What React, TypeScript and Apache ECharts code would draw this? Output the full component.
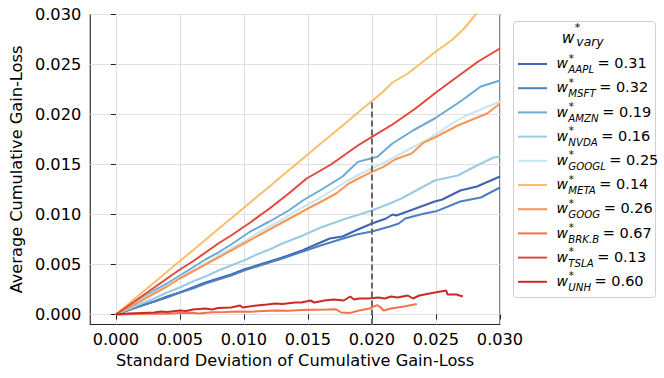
import React, { useEffect, useRef } from 'react';
import * as echarts from 'echarts';

const NAMES = ['AAPL', 'MSFT', 'AMZN', 'NVDA', 'GOOGL', 'META', 'GOOG', 'BRK.B', 'TSLA', 'UNH'];
const WEIGHTS = ['0.31', '0.32', '0.19', '0.16', '0.25', '0.14', '0.26', '0.67', '0.13', '0.60'];
const COLORS = ['#3f63ae', '#4c80bf', '#6aaad3', '#9acbe2', '#c8e6f1', '#fdbe6c', '#f99655', '#f4734a', '#e2483a', '#cc2a2a'];

const TICKS_X = [0, 0.005, 0.01, 0.015, 0.02, 0.025, 0.03];
const TICKS_Y = [0, 0.005, 0.01, 0.015, 0.02, 0.025, 0.03];

const AAPL = [[0,0],[0.001,0.00045],[0.002,0.0009],[0.003,0.0013],[0.004,0.0018],[0.005,0.0022],[0.006,0.0027],[0.007,0.0032],[0.008,0.0036],[0.009,0.004],[0.01,0.0045],[0.011,0.0049],[0.012,0.0053],[0.013,0.0057],[0.0146,0.00643],[0.0158,0.0071],[0.0167,0.0076],[0.0177,0.0078],[0.0189,0.0085],[0.02,0.0091],[0.0211,0.0096],[0.0216,0.01],[0.0219,0.0099],[0.0232,0.0105],[0.0249,0.0113],[0.0255,0.0115],[0.0269,0.0124],[0.0282,0.0128],[0.03,0.0138]];
const MSFT = [[0,0],[0.001,0.00044],[0.002,0.00088],[0.003,0.0013],[0.004,0.0017],[0.005,0.0022],[0.006,0.0026],[0.007,0.0031],[0.008,0.0035],[0.009,0.0039],[0.01,0.0044],[0.011,0.0048],[0.012,0.0052],[0.013,0.0056],[0.0146,0.0063],[0.016,0.0069],[0.0175,0.0075],[0.0188,0.008],[0.02,0.0083],[0.0214,0.0088],[0.0221,0.0091],[0.0226,0.0096],[0.0241,0.0101],[0.0251,0.01036],[0.0269,0.0113],[0.0285,0.0117],[0.03,0.0127]];
const AMZN = [[0,0],[0.001,0.0008],[0.002,0.0016],[0.003,0.0024],[0.004,0.0031],[0.005,0.0039],[0.006,0.0047],[0.007,0.0055],[0.008,0.0062],[0.009,0.007],[0.0105,0.0083],[0.012,0.0093],[0.0135,0.0104],[0.0146,0.0114],[0.0162,0.0126],[0.0177,0.0138],[0.0189,0.01526],[0.0199,0.0156],[0.0204,0.01576],[0.0216,0.0171],[0.0232,0.0184],[0.0249,0.0196],[0.0269,0.0213],[0.0285,0.0228],[0.03,0.0234]];
const NVDA = [[0,0],[0.001,0.00055],[0.002,0.0011],[0.003,0.0016],[0.004,0.0022],[0.005,0.0027],[0.006,0.0033],[0.007,0.0038],[0.008,0.0044],[0.009,0.0049],[0.01,0.0054],[0.011,0.006],[0.012,0.0065],[0.013,0.0071],[0.0146,0.0079],[0.016,0.0087],[0.018,0.0096],[0.02,0.0104],[0.0212,0.011],[0.0223,0.0116],[0.0236,0.0125],[0.0249,0.0134],[0.0267,0.0139],[0.0282,0.0149],[0.0295,0.0157],[0.03,0.0158]];
const GOOGL = [[0,0],[0.001,0.00075],[0.002,0.0015],[0.003,0.0022],[0.004,0.0029],[0.005,0.0037],[0.006,0.0044],[0.007,0.0051],[0.008,0.0059],[0.009,0.0066],[0.01,0.0073],[0.011,0.0081],[0.012,0.0088],[0.013,0.0095],[0.014,0.0103],[0.015,0.011],[0.016,0.0117],[0.017,0.0125],[0.018,0.0133],[0.019,0.014],[0.02,0.0146],[0.021,0.0152],[0.022,0.0159],[0.0233,0.0168],[0.0245,0.0176],[0.026,0.0189],[0.0272,0.0198],[0.0285,0.0205],[0.03,0.0213]];
const META = [[0,0],[0.001,0.00107],[0.002,0.00214],[0.003,0.0032],[0.004,0.00428],[0.005,0.00535],[0.006,0.0064],[0.007,0.00748],[0.008,0.00855],[0.009,0.0096],[0.01,0.01068],[0.011,0.01175],[0.012,0.0128],[0.013,0.0139],[0.014,0.01495],[0.015,0.01602],[0.016,0.0171],[0.017,0.01815],[0.018,0.0192],[0.019,0.0203],[0.02,0.02135],[0.0208,0.0222],[0.0216,0.0232],[0.0228,0.0241],[0.0241,0.0254],[0.025,0.0263],[0.0263,0.0275],[0.0272,0.0286],[0.0281,0.03],[0.029,0.0315]];
const GOOG = [[0,0],[0.001,0.0007],[0.002,0.0014],[0.003,0.0021],[0.004,0.0028],[0.005,0.0036],[0.006,0.0043],[0.007,0.005],[0.008,0.0057],[0.009,0.0064],[0.01,0.0071],[0.011,0.0078],[0.012,0.0085],[0.013,0.0092],[0.014,0.0099],[0.015,0.0106],[0.0162,0.0114],[0.0172,0.0121],[0.0182,0.0131],[0.0191,0.0137],[0.02,0.01426],[0.0209,0.01476],[0.0218,0.0155],[0.0231,0.0161],[0.024,0.01716],[0.0249,0.0177],[0.0267,0.0189],[0.029,0.0201],[0.03,0.0211]];
const BRKB = [[0,0],[0.001,0.00003],[0.002,0.00005],[0.003,0.0001],[0.004,0.00008],[0.005,0.00015],[0.006,0.00018],[0.0065,0.0001],[0.0075,0.00022],[0.0085,0.00025],[0.0095,0.0003],[0.0105,0.00028],[0.0115,0.00035],[0.0125,0.0004],[0.0135,0.00038],[0.0145,0.00045],[0.0155,0.00048],[0.0165,0.0005],[0.0172,0.00052],[0.0176,0.0002],[0.0183,0.00016],[0.019,0.0004],[0.0198,0.0006],[0.0204,0.00093],[0.0207,0.0007],[0.0209,0.0004],[0.0215,0.0006],[0.0225,0.0008],[0.0235,0.00105]];
const TSLA = [[0,0],[0.001,0.0009],[0.002,0.0018],[0.003,0.0027],[0.004,0.0036],[0.005,0.0045],[0.006,0.0053],[0.007,0.0062],[0.008,0.0071],[0.009,0.0079],[0.0105,0.0092],[0.012,0.0106],[0.0135,0.0121],[0.0149,0.0136],[0.0168,0.015],[0.0189,0.0169],[0.02,0.01776],[0.0216,0.019],[0.0234,0.0206],[0.0251,0.0223],[0.0268,0.0239],[0.0283,0.0253],[0.03,0.0266]];
const UNH = [[0,0],[0.001,0.0001],[0.002,0.00015],[0.003,0.0002],[0.0035,0.0003],[0.004,0.00025],[0.005,0.0004],[0.0055,0.00035],[0.006,0.0005],[0.007,0.0006],[0.0075,0.0005],[0.008,0.00065],[0.009,0.0007],[0.0097,0.0009],[0.0099,0.0007],[0.011,0.0009],[0.0118,0.001],[0.0125,0.0011],[0.013,0.00105],[0.014,0.0012],[0.0145,0.0012],[0.0152,0.0014],[0.0155,0.0012],[0.0163,0.0014],[0.017,0.0015],[0.0178,0.0014],[0.0183,0.0018],[0.0186,0.0015],[0.019,0.0016],[0.0197,0.0016],[0.0205,0.0017],[0.021,0.0016],[0.0215,0.0018],[0.022,0.0017],[0.0228,0.0019],[0.0232,0.0016],[0.0237,0.0019],[0.0245,0.0021],[0.0258,0.0024],[0.0259,0.002],[0.0266,0.002],[0.0271,0.0018]];

const SERIES_DATA = [AAPL, MSFT, AMZN, NVDA, GOOGL, META, GOOG, BRKB, TSLA, UNH];
const REF_LINE = [[0.02, -0.001], [0.02, 0.0214]];

const FONT = 'DejaVu Sans';
const AX_FONT = 16.2;
const MAIN_FS = 14;
const EQ_FS = 14.5;
const SUB_FS = 10.2;
const ROW_STEP = 24.2;

function measure(text: string, size: number, italic: boolean): number {
  const c = document.createElement('canvas').getContext('2d');
  if (!c) return text.length * size * 0.6;
  c.font = `${italic ? 'italic ' : ''}${size}px "${FONT}"`;
  return c.measureText(text).width;
}

function txt(x: number, y: number, text: string, size: number, italic: boolean): any {
  return {
    type: 'text', x, y, z: 10,
    style: {
      text, fontFamily: FONT, fontSize: size, fontStyle: italic ? 'italic' : 'normal',
      fill: '#000', align: 'left', verticalAlign: 'middle',
    },
  };
}

export default function App() {
  const ref = useRef<HTMLDivElement>(null);
  useEffect(() => {
    document.body.style.margin = '0';
    const chart = echarts.init(ref.current!, null, { renderer: 'svg' });
    const series: any[] = NAMES.map((n, i) => ({
      name: n,
      type: 'line',
      data: SERIES_DATA[i],
      showSymbol: false,
      symbol: 'none',
      lineStyle: { color: COLORS[i], width: 2 },
      itemStyle: { color: COLORS[i] },
      z: 3 + i,
    }));
    series.push({
      name: 'ref',
      type: 'line',
      data: REF_LINE,
      symbol: 'none',
      lineStyle: { color: '#666666', width: 2, type: [6, 3] },
      z: 20,
    });

    const legendTexts: any[] = [];
    NAMES.forEach((n, i) => {
      const dy = ROW_STEP * i;
      const subW = measure(n, SUB_FS, true);
      legendTexts.push(txt(556.6, 63.2 + dy, 'w', MAIN_FS, true));
      legendTexts.push(txt(568.8, 58 + dy, '*', SUB_FS, false));
      legendTexts.push(txt(568.3, 69.6 + dy, n, SUB_FS, true));
      legendTexts.push(txt(568.3 + subW + 3.5, 63.2 + dy, `= ${WEIGHTS[i]}`, EQ_FS, false));
    });
    legendTexts.push(txt(561.8, 38.3, 'w', 15.6, true));
    legendTexts.push(txt(574.8, 27.2, '*', 11, false));
    legendTexts.push(txt(576.3, 41.3, 'vary', 12.4, true));

    chart.setOption({
      animation: false,
      grid: {
        left: 83, right: 164, top: 14.5, bottom: 53.5,
        show: true, borderColor: '#222', borderWidth: 1.1, backgroundColor: 'transparent',
        containLabel: false,
      },
      xAxis: {
        type: 'value', min: -0.002, max: 0.03,
        name: 'Standard Deviation of Cumulative Gain-Loss',
        nameLocation: 'middle', nameGap: 27,
        nameTextStyle: { fontFamily: FONT, fontSize: AX_FONT, color: '#000' },
        axisLine: { show: false },
        axisTick: { show: true, customValues: TICKS_X, length: 5, lineStyle: { color: '#222', width: 1 } },
        axisLabel: { customValues: TICKS_X, formatter: (v: number) => v.toFixed(3), fontFamily: FONT, fontSize: AX_FONT, color: '#000', margin: 7 },
        splitLine: { show: true, lineStyle: { color: '#e0e0e0', width: 1 } },
      },
      yAxis: {
        type: 'value', min: -0.001, max: 0.03,
        name: 'Average Cumulative Gain-Loss',
        nameLocation: 'middle', nameGap: 61,
        nameTextStyle: { fontFamily: FONT, fontSize: AX_FONT, color: '#000' },
        axisLine: { show: false },
        axisTick: { show: true, customValues: TICKS_Y, length: 5, lineStyle: { color: '#222', width: 1 } },
        axisLabel: { customValues: TICKS_Y, formatter: (v: number) => v.toFixed(3), fontFamily: FONT, fontSize: AX_FONT, color: '#000', margin: 9 },
        splitLine: { show: true, lineStyle: { color: '#e0e0e0', width: 1 } },
      },
      legend: {
        data: NAMES,
        orient: 'vertical',
        left: 518, top: 53,
        itemWidth: 29, itemHeight: 2, itemGap: 2.2,
        icon: 'rect',
        padding: 0,
        formatter: () => ' ',
        textStyle: { fontFamily: FONT, fontSize: 13.5, lineHeight: 22, color: '#000' },
      },
      graphic: [
        {
          type: 'rect', z: -1,
          shape: { x: 513.5, y: 21.5, width: 142, height: 276, r: 3 },
          style: { fill: '#fff', stroke: '#d0d0d0', lineWidth: 1 },
        },
        ...legendTexts,
      ],
      series,
    });
    return () => chart.dispose();
  }, []);
  return <div ref={ref} style={{ width: 664, height: 378 }} />;
}
